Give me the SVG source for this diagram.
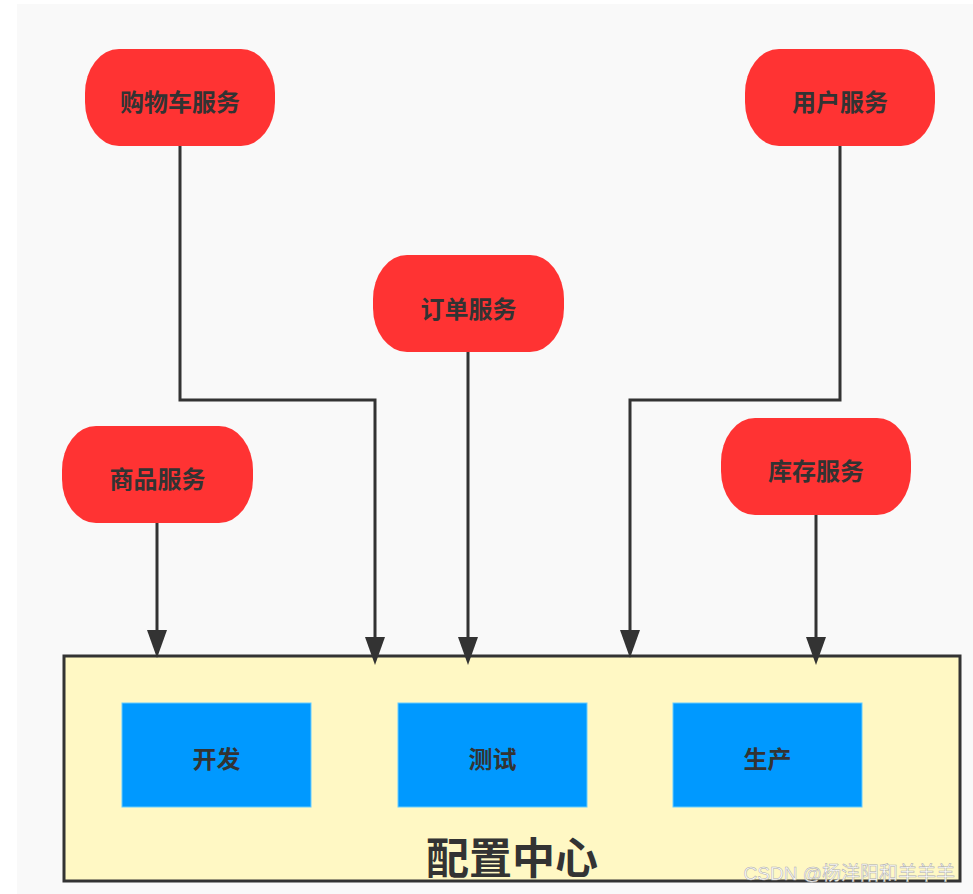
<svg xmlns="http://www.w3.org/2000/svg" width="973" height="894" viewBox="0 0 973 894">
<defs>
<style>
.svc rect{fill:#ff3333;}
.svc text{font-family:"Noto Sans CJK SC","Liberation Sans",sans-serif;font-weight:bold;font-size:24px;fill:#333;text-anchor:middle;dominant-baseline:central;}
.env rect{fill:#0099ff;stroke:#66ccff;stroke-width:1;}
.env text{font-family:"Noto Sans CJK SC","Liberation Sans",sans-serif;font-weight:bold;font-size:24px;fill:#333;text-anchor:middle;dominant-baseline:central;}
.conn{fill:none;stroke:#333;stroke-width:3;}
.head{fill:#333;}
</style>
</defs>
<rect x="0" y="0" width="973" height="894" fill="#ffffff"/>
<rect x="17" y="4" width="956" height="890" fill="#f9f9f9"/>

<g id="config-center">
<rect x="64" y="656" width="896" height="225" fill="#fff8c4" stroke="#333" stroke-width="3"/>
<text x="512" y="855" font-family="Noto Sans CJK SC, Liberation Sans, sans-serif" font-weight="bold" font-size="43" fill="#333" text-anchor="middle" dominant-baseline="central">配置中心</text>
</g>

<g id="env-dev" class="env"><rect x="122" y="703" width="189" height="104"/><text x="216.5" y="757">开发</text></g>
<g id="env-test" class="env"><rect x="398" y="703" width="189" height="104"/><text x="492.5" y="757">测试</text></g>
<g id="env-prod" class="env"><rect x="673" y="703" width="189" height="104"/><text x="767.5" y="757">生产</text></g>

<g id="connectors">
<path class="conn" d="M157,523 V630"/>
<path class="head" d="M147,630 L167,630 L157,658 Z"/>
<path class="conn" d="M180,146 V400 H375 V637"/>
<path class="head" d="M365,637 L385,637 L375,665 Z"/>
<path class="conn" d="M468,352 V637"/>
<path class="head" d="M458,637 L478,637 L468,665 Z"/>
<path class="conn" d="M840,146 V400 H630 V630"/>
<path class="head" d="M620,630 L640,630 L630,658 Z"/>
<path class="conn" d="M816,515 V637"/>
<path class="head" d="M806,637 L826,637 L816,665 Z"/>
</g>

<g id="cart" class="svc"><rect x="85" y="49" width="190" height="97" rx="34" ry="44"/><text x="180" y="100">购物车服务</text></g>
<g id="user" class="svc"><rect x="745" y="49" width="190" height="97" rx="34" ry="44"/><text x="840" y="100">用户服务</text></g>
<g id="order" class="svc"><rect x="373" y="255" width="191" height="97" rx="34" ry="44"/><text x="468.5" y="307">订单服务</text></g>
<g id="goods" class="svc"><rect x="62" y="426" width="191" height="97" rx="34" ry="44"/><text x="157.5" y="477">商品服务</text></g>
<g id="stock" class="svc"><rect x="721" y="418" width="190" height="97" rx="34" ry="44"/><text x="816" y="469">库存服务</text></g>

<text x="955" y="880" font-family="Liberation Sans, Noto Sans CJK SC, sans-serif" font-size="19" fill="#ffffff" stroke="#aaa" stroke-width="0.5" text-anchor="end">CSDN @杨洋阳和羊羊羊</text>
</svg>
